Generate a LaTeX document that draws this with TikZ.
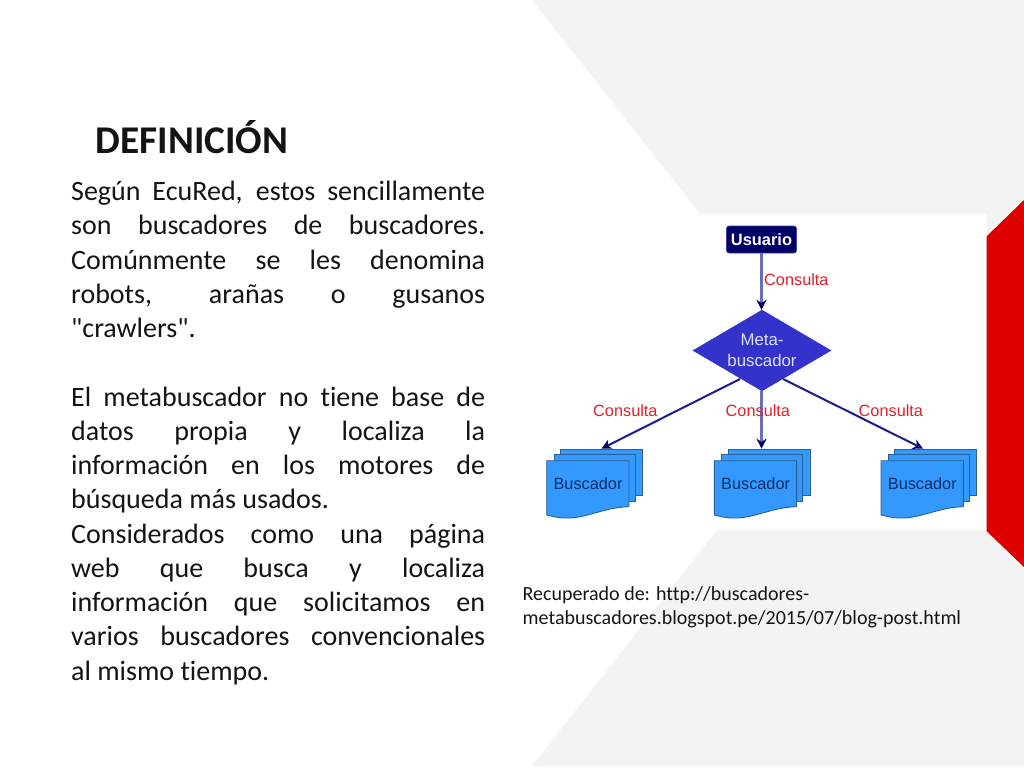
\documentclass[tikz,border=0pt]{standalone}
\usepackage{fontspec}
\newfontfamily\slidefont[Ligatures=NoCommon]{Carlito}
\newfontfamily\diagfont{Liberation Sans}
\usetikzlibrary{arrows.meta,shapes.geometric,calc}
\definecolor{panelgray}{HTML}{F3F3F3}
\definecolor{slidered}{HTML}{DE0000}
\definecolor{navybox}{HTML}{000066}
\definecolor{metablue}{HTML}{3333CC}
\definecolor{metatext}{HTML}{DDE0FF}
\definecolor{docblue}{HTML}{3399FF}
\definecolor{docedge}{HTML}{2F5F8F}
\definecolor{doctext}{HTML}{0A2F66}
\definecolor{edgelav}{HTML}{6A6EB8}
\definecolor{edgenavy}{HTML}{1C1C8C}
\definecolor{conred}{HTML}{E0202E}
\newcommand{\jl}[1]{\makebox[414pt][s]{\spaceskip=0pt #1}\\}
\tikzset{
  diagtext/.style={font=\diagfont\fontsize{16.3}{18}\selectfont,inner sep=0pt},
  conlabel/.style={diagtext,text=conred,anchor=base west},
  sheet/.style={draw=docedge,fill=docblue,line width=0.9pt},
  thickedge/.style={draw=edgelav,line width=3.4pt,-{Stealth[length=10pt,width=10pt,color=navybox]}},
  thinedge/.style={draw=edgenavy,line width=2pt,-{Stealth[length=10pt,width=10pt,color=navybox]}},
  bodytext/.style={inner sep=0pt,text width=414pt,align=left,anchor=base west,font=\slidefont\fontsize{28}{34.25}\selectfont,text=black!92}
}
\newcommand{\stackdoc}[2]{%
  \begin{scope}[xshift=#2pt]
    \node[sheet,rectangle,inner sep=0pt,minimum width=82pt,minimum height=46.5pt,anchor=north west] (#1back) at (560,448.7) {};
    \draw[sheet] (554.3,454.3) rectangle (635,501);
    \draw[sheet] (546.7,460.7) -- (629,460.7) -- (629,506.7)
      .. controls (605,507) and (585,519) .. (565,518)
      .. controls (557,518) and (552,516) .. (546.7,515) -- cycle;
    \node[diagtext,text=doctext] (#1label) at (588,484) {Buscador};
  \end{scope}}
\begin{document}
\begin{tikzpicture}[x=1pt,y=-1pt]
\useasboundingbox (0,0) rectangle (1024,768);
\fill[white] (0,0) rectangle (1024,768);
\fill[panelgray] (532,0) -- (1024,0) -- (1024,766) -- (532,766) -- (717,530) -- (986.5,530) -- (986.5,214) -- (700,214) -- cycle;
\fill[slidered] (1024,200) -- (986.5,236.5) -- (986.5,531) -- (1024,567) -- cycle;

\node[inner sep=0pt,anchor=base west,font=\slidefont\bfseries\fontsize{39.3}{44}\selectfont,text=black!92] (title) at (95.5,153) {DEFINICIÓN};

\node[bodytext] (body) at (71,200.6) {%
\jl{Según EcuRed, estos sencillamente}
\jl{son buscadores de buscadores.}
\jl{Comúnmente se les denomina}
\jl{robots, arañas o gusanos}
"crawlers".\\[34.25pt]
\jl{El metabuscador no tiene base de}
\jl{datos propia y localiza la}
\jl{información en los motores de}
\spaceskip=0pt búsqueda más usados.\\
\jl{Considerados como una página}
\jl{web que busca y localiza}
\jl{información que solicitamos en}
\jl{varios buscadores convencionales}
\spaceskip=0pt al mismo tiempo.};

\node[inner sep=0pt,anchor=base west,align=left,font=\slidefont\fontsize{20}{24}\selectfont,text=black!92] (source) at (522.5,624) {\spaceskip=0pt Recuperado de: http://buscadores-\\metabuscadores.blogspot.pe/2015/07/blog-post.html};

% diagram
\node[rectangle,rounded corners=2.5pt,fill=navybox,draw=edgelav!60!navybox,line width=0.6pt,minimum width=70pt,minimum height=27pt,inner sep=0pt,text=white,font=\diagfont\bfseries\fontsize{16.4}{18}\selectfont] (usuario) at (761.5,239.5) {Usuario};
\node[diamond,fill=metablue,draw=metablue,inner sep=0pt,shape aspect=1.7,minimum width=138pt,minimum height=81pt,align=center,text=metatext,font=\diagfont\fontsize{16.8}{20.5}\selectfont] (meta) at (762,350.5) {Meta-\\buscador};

\stackdoc{bA}{0}
\stackdoc{bB}{167.6}
\stackdoc{bC}{334.3}

\coordinate (edgeL) at (740,379);
\coordinate (edgeR) at (783,379);
\coordinate (endC) at (923,448.7);

\draw[thickedge] (usuario.south) -- (usuario.south |- meta.north);
\draw[thickedge] (meta.south -| usuario.south) -- (usuario.south |- bBback.north);
\draw[thinedge] (edgeL) -- (bAback.north);
\draw[thinedge] (edgeR) -- (endC);

\node[conlabel] (c0) at (764,285.5) {Consulta};
\node[conlabel] (c1) at (593,416.5) {Consulta};
\node[conlabel] (c2) at (725.5,416.5) {Consulta};
\node[conlabel] (c3) at (858.5,416.5) {Consulta};
\end{tikzpicture}
\end{document}
